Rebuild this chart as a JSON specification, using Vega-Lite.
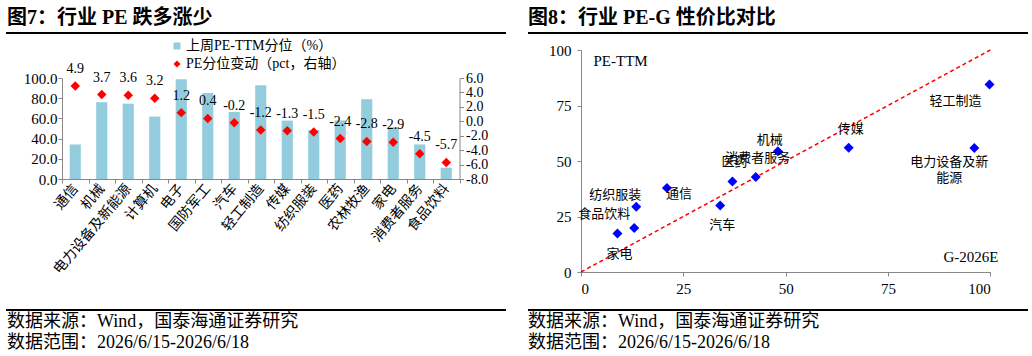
{
  "$schema": "https://vega.github.io/schema/vega-lite/v6.json",
  "padding": {"left": 0, "top": 8, "right": 5, "bottom": 0},
  "background": "white",
  "columns": 2,
  "spacing": {"column": 22, "row": 16},
  "bounds": "flush",
  "config": {
    "view": {"stroke": null},
    "font": "Liberation Serif, Noto Sans CJK SC",
    "locale": {"number": {"decimal": ".", "thousands": ",", "grouping": [3], "currency": ["", ""], "minus": "-"}},
    "axis": {"labelColor": "#000", "domainColor": "#888888", "tickColor": "#888888", "grid": false, "labelFont": "Liberation Serif, Noto Sans CJK SC", "labelFontSize": 15, "tickSize": 4, "labelOverlap": false},
    "title": {"color": "#000", "subtitleColor": "#000"}
  },
  "datasets": {
    "bars": [
      {"industry": "通信", "pct": 34.2, "chg": 4.9},
      {"industry": "机械", "pct": 76.0, "chg": 3.7},
      {"industry": "电力设备及新能源", "pct": 74.6, "chg": 3.6},
      {"industry": "计算机", "pct": 61.8, "chg": 3.2},
      {"industry": "电子", "pct": 98.7, "chg": 1.2},
      {"industry": "国防军工", "pct": 85.2, "chg": 0.4},
      {"industry": "汽车", "pct": 66.4, "chg": -0.2},
      {"industry": "轻工制造", "pct": 92.8, "chg": -1.2},
      {"industry": "传媒", "pct": 57.8, "chg": -1.3},
      {"industry": "纺织服装", "pct": 48.4, "chg": -1.5},
      {"industry": "医药", "pct": 58.0, "chg": -2.4},
      {"industry": "农林牧渔", "pct": 79.0, "chg": -2.8},
      {"industry": "家电", "pct": 51.3, "chg": -2.9},
      {"industry": "消费者服务", "pct": 34.2, "chg": -4.5},
      {"industry": "食品饮料", "pct": 11.2, "chg": -5.7}
    ],
    "pts": [
      {"name": "家电", "label": "家电", "g": 8.9, "pe": 17.3},
      {"name": "食品饮料", "label": "食品饮料", "g": 13.0, "pe": 19.8},
      {"name": "纺织服装", "label": "纺织服装", "g": 13.5, "pe": 29.4},
      {"name": "通信", "label": "通信", "g": 21.0, "pe": 37.8},
      {"name": "汽车", "label": "汽车", "g": 34.0, "pe": 30.0},
      {"name": "医药", "label": "医药", "g": 37.0, "pe": 40.8},
      {"name": "消费者服务", "label": "消费者服务", "g": 42.7, "pe": 42.8},
      {"name": "机械", "label": "机械", "g": 48.1, "pe": 54.4},
      {"name": "传媒", "label": "传媒", "g": 65.4, "pe": 56.0},
      {"name": "电力设备及新能源", "label": "电力设备及新\n能源", "g": 96.1, "pe": 55.9},
      {"name": "轻工制造", "label": "轻工制造", "g": 99.8, "pe": 84.5}
    ],
    "diag": [
      {"g": 0, "pe": 0},
      {"g": 100, "pe": 100}
    ],
    "one": [{"line": 1}]
  },
  "concat": [
    {
      "width": 500, "height": 1,
      "title": {"text": "图7：行业 PE 跌多涨少", "anchor": "start", "orient": "top", "offset": 4, "dx": 2, "fontSize": 20, "fontWeight": "bold", "font": "Liberation Serif, Noto Sans CJK SC"},
      "data": {"name": "one"},
      "mark": {"type": "rule", "color": "#000", "strokeWidth": 2},
      "encoding": {"y": {"datum": 0, "type": "quantitative", "axis": null}}
    },
    {
      "width": 500, "height": 1,
      "title": {"text": "图8：行业 PE-G 性价比对比", "anchor": "start", "orient": "top", "offset": 4, "dx": 1, "fontSize": 20, "fontWeight": "bold", "font": "Liberation Serif, Noto Sans CJK SC"},
      "data": {"name": "one"},
      "mark": {"type": "rule", "color": "#000", "strokeWidth": 2},
      "encoding": {"y": {"datum": 0, "type": "quantitative", "axis": null}}
    },
    {
      "width": 500, "height": 244,
      "data": {"name": "bars"},
      "encoding": {
        "x": {"field": "industry", "type": "nominal", "sort": null,
          "scale": {"range": [56, 453.5], "paddingInner": 0, "paddingOuter": 0},
          "axis": {"title": null, "labelAngle": -50, "labelFont": "Noto Sans CJK SC", "labelFontSize": 14, "tickBand": "extent", "offset": -115, "labelPadding": 3, "tickSize": 4, "labelOverlap": false}}
      },
      "layer": [
        {
          "mark": {"type": "bar", "width": {"band": 0.42}},
          "encoding": {
            "y": {"field": "pct", "type": "quantitative",
              "scale": {"domain": [0, 100], "nice": false, "range": [129, 28]},
              "axis": {"title": null, "values": [0, 20, 40, 60, 80, 100], "format": ".1f", "offset": -56, "labelPadding": 1, "labelOverlap": false}},
            "color": {"datum": "上周PE-TTM分位（%）", "type": "nominal",
              "scale": {"domain": ["上周PE-TTM分位（%）", "PE分位变动（pct，右轴）"], "range": ["#93CDDD", "#FF0000"]},
              "legend": {"title": null, "orient": "none", "legendX": 164, "legendY": 6, "direction": "vertical", "symbolSize": 49, "labelFontSize": 14, "labelFont": "Liberation Serif, Noto Sans CJK SC", "labelColor": "#000", "rowPadding": 4, "labelOffset": 2, "padding": 0, "symbolStrokeWidth": 0,
                "encode": {"symbols": {"update": {"shape": {"signal": "datum.value === '上周PE-TTM分位（%）' ? 'square' : 'diamond'"}}}}}}
          }
        },
        {
          "encoding": {
            "y": {"field": "chg", "type": "quantitative",
              "scale": {"domain": [-8, 6], "nice": false, "range": [129, 28]},
              "axis": {"orient": "right", "title": null, "values": [-8, -6, -4, -2, 0, 2, 4, 6], "format": ".1f", "offset": -46.5, "labelPadding": 2, "labelFontSize": 14, "labelOverlap": false, "labelSeparation": 0}}
          },
          "layer": [
            {
              "mark": {"type": "point", "shape": "diamond", "filled": true, "size": 90, "opacity": 1},
              "encoding": {
                "color": {"datum": "PE分位变动（pct，右轴）", "type": "nominal"}
              }
            },
            {
              "mark": {"type": "text", "dy": -17, "fontSize": 14, "font": "Liberation Serif", "color": "#000"},
              "encoding": {
                "text": {"field": "chg", "type": "quantitative", "format": ".1f"}
              }
            }
          ]
        }
      ],
      "resolve": {"scale": {"y": "independent"}}
    },
    {
      "width": 500, "height": 244,
      "encoding": {
        "x": {"field": "g", "type": "quantitative",
          "scale": {"domain": [0, 100], "nice": false, "range": [53, 462.3]},
          "axis": {"title": "G-2026E", "titleX": 470, "titleY": -16, "titleAlign": "right", "titleBaseline": "middle", "titleFont": "Liberation Serif", "titleFontSize": 15, "titleFontWeight": "normal", "titleColor": "#000", "values": [0, 25, 50, 75, 100], "offset": -22, "labelPadding": 5}},
        "y": {"field": "pe", "type": "quantitative",
          "scale": {"domain": [0, 100], "nice": false, "range": [222, 0]},
          "axis": {"title": "PE-TTM", "titleAngle": 0, "titleX": 12, "titleY": 10, "titleAlign": "left", "titleBaseline": "middle", "titleFont": "Liberation Serif", "titleFontSize": 15, "titleFontWeight": "normal", "titleColor": "#000", "values": [0, 25, 50, 75, 100], "offset": -53, "labelPadding": 6}}
      },
      "layer": [
        {"data": {"name": "diag"}, "mark": {"type": "line", "color": "#FF0000", "strokeDash": [4, 3], "strokeWidth": 1.5}},
        {"data": {"name": "pts"}, "mark": {"type": "point", "shape": "diamond", "filled": true, "color": "#0000FF", "size": 100, "opacity": 1}},
        {"data": {"name": "pts"}, "transform": [{"filter": {"field": "name", "oneOf": ["传媒", "医药", "消费者服务"]}}],
          "mark": {"type": "text", "dx": 2, "dy": -19, "font": "Noto Sans CJK SC", "fontSize": 13, "color": "#000"},
          "encoding": {"text": {"field": "label"}}},
        {"data": {"name": "pts"}, "transform": [{"filter": {"field": "name", "oneOf": ["家电", "汽车"]}}],
          "mark": {"type": "text", "dx": 2, "dy": 20, "font": "Noto Sans CJK SC", "fontSize": 13, "color": "#000"},
          "encoding": {"text": {"field": "label"}}},
        {"data": {"name": "pts"}, "transform": [{"filter": {"field": "name", "equal": "机械"}}],
          "mark": {"type": "text", "dx": -8, "dy": -11, "font": "Noto Sans CJK SC", "fontSize": 13, "color": "#000"},
          "encoding": {"text": {"field": "label"}}},
        {"data": {"name": "pts"}, "transform": [{"filter": {"field": "name", "equal": "通信"}}],
          "mark": {"type": "text", "dx": 12, "dy": 6, "font": "Noto Sans CJK SC", "fontSize": 13, "color": "#000"},
          "encoding": {"text": {"field": "label"}}},
        {"data": {"name": "pts"}, "transform": [{"filter": {"field": "name", "equal": "食品饮料"}}],
          "mark": {"type": "text", "dx": -30, "dy": -14, "font": "Noto Sans CJK SC", "fontSize": 13, "color": "#000"},
          "encoding": {"text": {"field": "label"}}},
        {"data": {"name": "pts"}, "transform": [{"filter": {"field": "name", "equal": "纺织服装"}}],
          "mark": {"type": "text", "dx": -21, "dy": -12, "font": "Noto Sans CJK SC", "fontSize": 13, "color": "#000"},
          "encoding": {"text": {"field": "label"}}},
        {"data": {"name": "pts"}, "transform": [{"filter": {"field": "name", "equal": "轻工制造"}}],
          "mark": {"type": "text", "dx": -34, "dy": 17, "font": "Noto Sans CJK SC", "fontSize": 13, "color": "#000"},
          "encoding": {"text": {"field": "label"}}},
        {"data": {"name": "pts"}, "transform": [{"filter": {"field": "name", "equal": "电力设备及新能源"}}],
          "mark": {"type": "text", "dx": -25, "dy": 8, "baseline": "top", "lineBreak": "\n", "lineHeight": 16, "font": "Noto Sans CJK SC", "fontSize": 13, "color": "#000"},
          "encoding": {"text": {"field": "label"}}}
      ]
    },
    {
      "width": 500, "height": 1,
      "title": {"text": "数据来源：Wind，国泰海通证券研究", "subtitle": "数据范围：2026/6/15-2026/6/18", "orient": "bottom", "anchor": "start", "offset": 2, "dx": 2, "fontSize": 18, "fontWeight": "normal", "subtitleFontSize": 18, "subtitlePadding": 3, "font": "Liberation Serif, Noto Sans CJK SC", "subtitleFont": "Liberation Serif, Noto Sans CJK SC"},
      "data": {"name": "one"},
      "mark": {"type": "rule", "color": "#000", "strokeWidth": 2},
      "encoding": {"y": {"datum": 0, "type": "quantitative", "axis": null}}
    },
    {
      "width": 500, "height": 1,
      "title": {"text": "数据来源：Wind，国泰海通证券研究", "subtitle": "数据范围：2026/6/15-2026/6/18", "orient": "bottom", "anchor": "start", "offset": 2, "dx": 1, "fontSize": 18, "fontWeight": "normal", "subtitleFontSize": 18, "subtitlePadding": 3, "font": "Liberation Serif, Noto Sans CJK SC", "subtitleFont": "Liberation Serif, Noto Sans CJK SC"},
      "data": {"name": "one"},
      "mark": {"type": "rule", "color": "#000", "strokeWidth": 2},
      "encoding": {"y": {"datum": 0, "type": "quantitative", "axis": null}}
    }
  ]
}
